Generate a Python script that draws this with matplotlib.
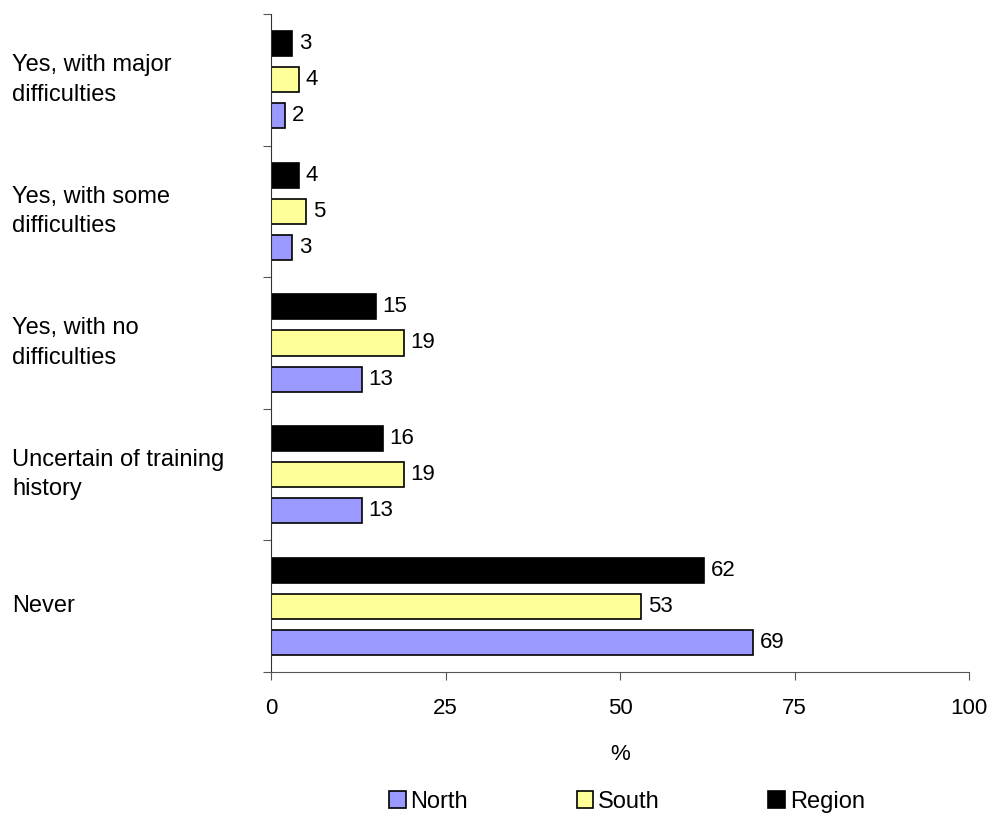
import numpy as np
import matplotlib.pyplot as plt
import matplotlib.transforms as mtransforms

plt.rcParams['font.family'] = ['Liberation Sans', 'DejaVu Sans']

# Data (bottom to top)
categories = ["Never", "Uncertain of training\nhistory", "Yes, with no\ndifficulties",
              "Yes, with some\ndifficulties", "Yes, with major\ndifficulties"]
north = [69, 13, 13, 3, 2]
south = [53, 19, 19, 5, 4]
region = [62, 16, 15, 4, 3]
xticks = [0, 25, 50, 75, 100]

fig = plt.figure(figsize=(9.92, 8.17), dpi=100)
ax = fig.add_axes([271/992, 1-672/817, 698/992, 658/817])

y = np.arange(len(categories))
h = 0.19
off = 0.274
series = [("North", north, "#9999FF", -off),
          ("South", south, "#FFFF99", 0),
          ("Region", region, "#000000", off)]
for name, vals, col, d in series:
    bars = ax.barh(y + d, vals, height=h, color=col, edgecolor="black", linewidth=1.2, label=name)
    for b, v in zip(bars, vals):
        ax.annotate(str(v), (v, b.get_y() + b.get_height()/2), xytext=(5, 0),
                    textcoords="offset points", va="center", ha="left", fontsize=16)

ax.set_xlim(0, 100)
ax.set_ylim(-0.5, len(categories) - 0.5)
ax.set_xticks(xticks)
ax.set_xticklabels([str(t) for t in xticks], fontsize=16)
ax.tick_params(axis="x", direction="out", length=6, pad=13, color="#555555")
ax.set_yticks(np.arange(-0.5, len(categories)), minor=False)
ax.set_yticklabels([])
ax.tick_params(axis="y", direction="out", length=6, color="#555555")
for s in ["top", "right"]:
    ax.spines[s].set_visible(False)
ax.spines["left"].set_color("#333333")
ax.spines["bottom"].set_color("#555555")
ax.set_xlabel("%", fontsize=16, labelpad=18)

tr = mtransforms.blended_transform_factory(fig.transFigure, ax.transData)
for yi, c in zip(y, categories):
    fig.text(12/992, yi, c, transform=tr, ha="left", va="center", fontsize=17, linespacing=1.45)

fig.legend(loc="center", bbox_to_anchor=(627/992, 1-802/817), ncol=3, frameon=False,
           fontsize=17, handlelength=0.7, handleheight=0.7, handletextpad=0.2,
           columnspacing=4.6)

fig.savefig("out.png", dpi=100)
